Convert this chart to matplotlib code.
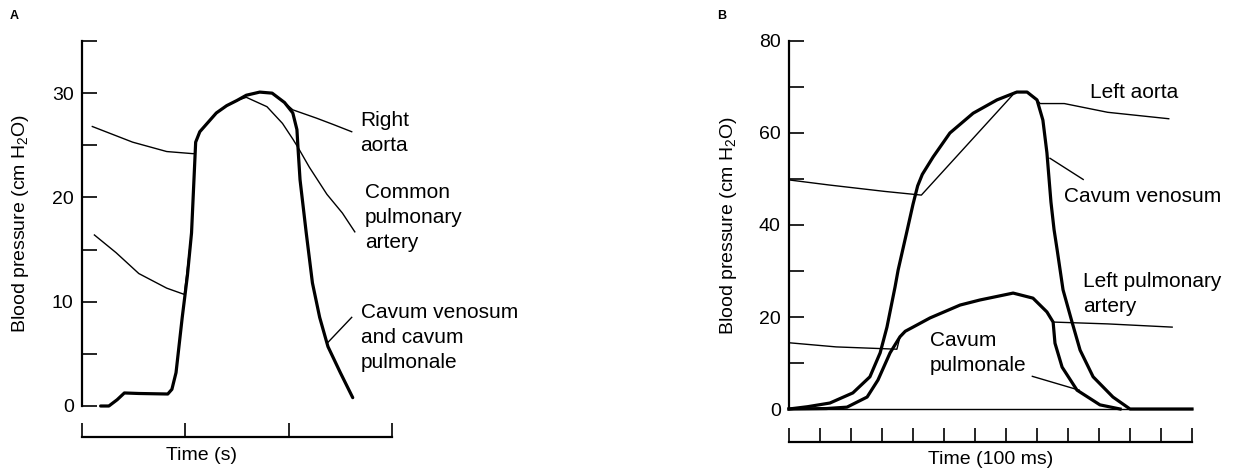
import matplotlib
matplotlib.use("Agg")
import matplotlib.pyplot as plt

plt.rcParams['font.family'] = ['Liberation Sans', 'DejaVu Sans']
plt.rcParams['mathtext.fontset'] = 'custom'
plt.rcParams['mathtext.rm'] = 'Liberation Sans'
plt.rcParams['mathtext.it'] = 'Liberation Sans:italic'

## 패널 A 데이터 (시간: 임의 단위 0~3, 압력: cm H2O)
a_cav_t = [0.18, 0.26, 0.34, 0.41, 0.55, 0.83, 0.87, 0.91, 0.97, 1.02, 1.06, 1.10, 1.14, 1.22,
           1.30, 1.40, 1.50, 1.59, 1.72, 1.84, 1.96, 2.04, 2.08, 2.09, 2.11, 2.17, 2.23, 2.30,
           2.38, 2.50, 2.62]
a_cav_p = [0, 0, 0.6, 1.25, 1.2, 1.15, 1.6, 3.2, 8.5, 12.5, 16.6, 25.3, 26.3, 27.2,
           28.1, 28.8, 29.3, 29.8, 30.1, 30.0, 29.1, 28.1, 26.5, 24.8, 21.7, 16.6, 11.8, 8.5,
           5.7, 3.2, 0.8]

a_aorta_t = [0.10, 0.49, 0.82, 1.07, 1.09, 1.10, 1.14, 1.22, 1.30, 1.40, 1.50, 1.59, 1.72,
             1.84, 1.96, 2.04, 2.27, 2.43, 2.61]
a_aorta_p = [26.8, 25.3, 24.4, 24.2, 24.2, 25.3, 26.3, 27.2, 28.1, 28.8, 29.3, 29.8, 30.1,
             30.0, 29.1, 28.4, 27.6, 27.0, 26.3]

a_pulm_t = [0.12, 0.33, 0.55, 0.82, 0.99, 1.06, 1.10, 1.14, 1.22, 1.30, 1.40, 1.50, 1.59,
            1.79, 1.94, 2.04, 2.09, 2.20, 2.37, 2.52, 2.64]
a_pulm_p = [16.4, 14.7, 12.7, 11.3, 10.7, 16.6, 25.3, 26.3, 27.2, 28.1, 28.8, 29.3, 29.6,
            28.7, 27.1, 25.6, 24.8, 22.9, 20.3, 18.5, 16.7]

## 패널 B 데이터 (시간: 100 ms 단위)
b_ven_t = [0, 0.6, 1.32, 2.06, 2.61, 2.94, 3.16, 3.42, 3.52, 3.8, 4.0, 4.15, 4.3, 4.65, 5.19,
           5.94, 6.71, 7.35, 7.68, 8.0, 8.19, 8.32, 8.45, 8.55, 8.65, 8.84, 9.13, 9.39, 9.81,
           10.45, 11.0, 13]
b_ven_p = [0, 0.5, 1.3, 3.5, 7.0, 12.2, 17.8, 26.5, 30.2, 38.5, 44.5, 48.5, 51.0, 54.8, 60.0,
           64.3, 67.2, 68.9, 68.9, 67.2, 62.8, 55.7, 45.0, 39.0, 34.6, 25.9, 18.9, 12.8, 7.0,
           2.6, 0, 0]

b_aorta_t = [0, 1.29, 3.09, 4.27, 7.3, 7.35, 7.68, 8.0, 8.1, 8.88, 10.28, 12.25]
b_aorta_p = [49.8, 48.7, 47.3, 46.5, 68.9, 68.9, 68.9, 67.2, 66.4, 66.4, 64.5, 63.1]

b_pul_t = [0, 1.2, 1.87, 2.52, 2.87, 3.26, 3.58, 3.75, 4.0, 4.55, 5.52, 6.16, 7.23, 7.87,
           8.32, 8.52, 8.58, 8.81, 9.29, 10.03, 10.68]
b_pul_p = [0, 0.1, 0.4, 2.6, 6.3, 12.2, 15.7, 16.9, 17.8, 19.8, 22.6, 23.7, 25.2, 24.1,
           21.1, 18.9, 14.3, 9.1, 4.1, 0.9, 0]

b_lpa_t = [0, 1.52, 3.48, 3.58, 3.75, 4.0, 4.55, 5.52, 6.16, 7.23, 7.87, 8.32, 8.52,
           10.28, 12.36]
b_lpa_p = [14.4, 13.5, 13.0, 15.7, 16.9, 17.8, 19.8, 22.6, 23.7, 25.2, 24.1, 21.1, 18.9,
           18.5, 17.8]

b_base_t = [0, 13]
b_base_p = [0, 0]

thick = 2.3
thin = 1.0
fs = 14
fs_note = 15

fig = plt.figure(figsize=(12.36, 4.74), dpi=100)
axA = fig.add_axes([82/1236, 68/474, 310/1236, 365/474])
axB = fig.add_axes([789/1236, 65/474, 403/1236, 368/474])

# 공통 축 스타일
for ax in (axA, axB):
    for s in ('top', 'right'):
        ax.spines[s].set_visible(False)
    ax.spines['left'].set_linewidth(1.6)
    ax.spines['bottom'].set_linewidth(1.6)
    ax.tick_params(which='both', direction='in', width=1.2, labelsize=fs)
    ax.tick_params(axis='y', which='both', length=11, pad=6)
    ax.tick_params(axis='x', which='both', length=10, labelbottom=False)

## 패널 A
axA.plot(a_aorta_t, a_aorta_p, 'k', lw=thin, clip_on=False)
axA.plot(a_pulm_t, a_pulm_p, 'k', lw=thin, clip_on=False)
axA.plot(a_cav_t, a_cav_p, 'k', lw=thick, clip_on=False, solid_capstyle='round')
axA.set_xlim(0, 3)
axA.set_ylim(0, 35)
axA.spines['bottom'].set_position(('outward', 22.3))
axA.set_xticks([0, 1, 2, 3])
axA.set_yticks([0, 10, 20, 30])
axA.set_yticks([5, 15, 25, 35], minor=True)
axA.set_ylabel('Blood pressure (cm H$_2$O)', fontsize=fs)
axA.yaxis.set_label_coords(-0.165, 0.5)
axA.set_xlabel('Time (s)', fontsize=fs)
axA.xaxis.set_label_coords(0.385, -0.112)

axA.text(2.69, 26.2, 'Right\naorta', fontsize=fs_note, va='center', ha='left', linespacing=1.4)
axA.text(2.74, 18.1, 'Common\npulmonary\nartery', fontsize=fs_note, va='center', ha='left', linespacing=1.4)
axA.text(2.70, 6.6, 'Cavum venosum\nand cavum\npulmonale', fontsize=fs_note, va='center', ha='left',
         linespacing=1.4, clip_on=False)
axA.plot([2.61, 2.38], [8.5, 6.1], 'k', lw=thin, clip_on=False)

## 패널 B
axB.plot(b_base_t, b_base_p, 'k', lw=thin, clip_on=False)
axB.plot(b_aorta_t, b_aorta_p, 'k', lw=thin, clip_on=False)
axB.plot(b_lpa_t, b_lpa_p, 'k', lw=thin, clip_on=False)
axB.plot(b_ven_t, b_ven_p, 'k', lw=thick, clip_on=False)
axB.plot(b_pul_t, b_pul_p, 'k', lw=thick, clip_on=False)
axB.set_xlim(0, 13)
axB.set_ylim(0, 80)
axB.spines['bottom'].set_position(('outward', 23.8))
axB.set_xticks(range(0, 14))
axB.set_yticks([0, 20, 40, 60, 80])
axB.set_yticks([10, 30, 50, 70], minor=True)
axB.set_ylabel('Blood pressure (cm H$_2$O)', fontsize=fs)
axB.yaxis.set_label_coords(-0.124, 0.5)
axB.set_xlabel('Time (100 ms)', fontsize=fs)
axB.xaxis.set_label_coords(0.5, -0.115)

axB.text(9.70, 68.8, 'Left aorta', fontsize=fs_note, va='center', ha='left')
axB.text(8.86, 46.3, 'Cavum venosum', fontsize=fs_note, va='center', ha='left', clip_on=False)
axB.plot([8.42, 9.49], [54.5, 49.9], 'k', lw=thin, clip_on=False)
axB.text(9.49, 25.1, 'Left pulmonary\nartery', fontsize=fs_note, va='center', ha='left', linespacing=1.4)
axB.text(4.55, 12.1, 'Cavum\npulmonale', fontsize=fs_note, va='center', ha='left', linespacing=1.4)
axB.plot([7.85, 9.36], [7.1, 4.1], 'k', lw=thin, clip_on=False)

fig.text(10/1236, 1 - 16/474, 'A', fontsize=9, fontweight='bold', va='center')
fig.text(717/1236, 1 - 16/474, 'B', fontsize=9, fontweight='bold', va='center')

fig.savefig('out.png', dpi=100)
